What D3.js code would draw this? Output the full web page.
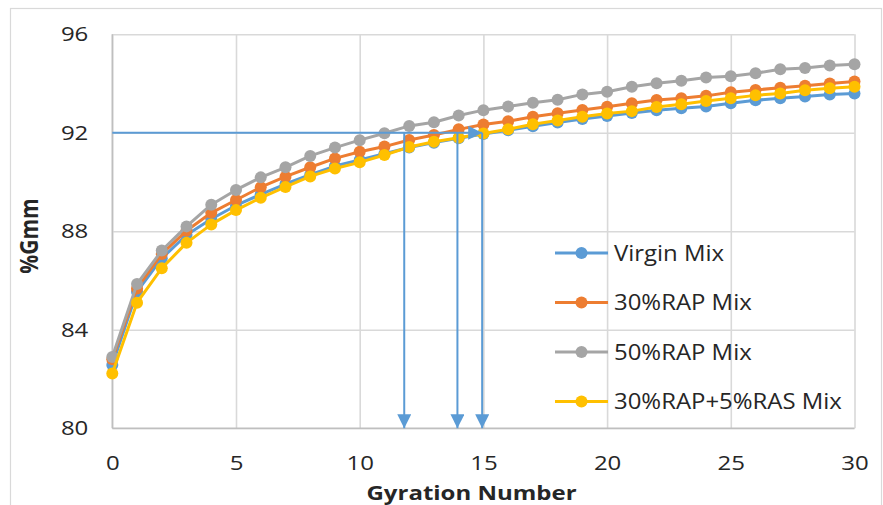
<!DOCTYPE html>
<html>
<head>
<meta charset="utf-8">
<script src="https://cdn.jsdelivr.net/npm/d3@7/dist/d3.min.js"></script>
<style>
  html, body { margin: 0; padding: 0; background: #fff; }
  svg { display: block; }
  text { font-family: "Open Sans", "Noto Sans", sans-serif; fill: #262626; }
</style>
</head>
<body>
<svg id="chart" width="883" height="505"></svg>
<script>
// ---- data ----
const gyrations = d3.range(0, 31);
const virginMix = [82.57, 85.55, 86.9, 87.85, 88.5, 89.05, 89.5, 89.92, 90.3, 90.65, 90.9, 91.15, 91.4, 91.6, 91.78, 91.95, 92.1, 92.27, 92.42, 92.56, 92.68, 92.8, 92.92, 93.0, 93.07, 93.2, 93.32, 93.4, 93.47, 93.56, 93.6];
const rap30Mix = [82.8, 85.68, 87.08, 88.02, 88.75, 89.27, 89.79, 90.22, 90.6, 90.96, 91.23, 91.44, 91.71, 91.91, 92.14, 92.34, 92.47, 92.65, 92.79, 92.93, 93.06, 93.2, 93.33, 93.4, 93.5, 93.65, 93.74, 93.83, 93.91, 94.0, 94.08];
const rap50Mix = [82.9, 85.86, 87.22, 88.2, 89.08, 89.68, 90.19, 90.6, 91.06, 91.4, 91.7, 91.98, 92.28, 92.43, 92.7, 92.92, 93.07, 93.22, 93.34, 93.56, 93.67, 93.87, 94.01, 94.11, 94.25, 94.3, 94.42, 94.58, 94.63, 94.73, 94.78];
const rap30ras5Mix = [82.23, 85.1, 86.5, 87.53, 88.28, 88.86, 89.36, 89.8, 90.23, 90.55, 90.8, 91.1, 91.42, 91.64, 91.8, 91.97, 92.14, 92.35, 92.5, 92.65, 92.78, 92.88, 93.05, 93.16, 93.29, 93.4, 93.52, 93.6, 93.73, 93.81, 93.87];
const seriesNames = ["Virgin Mix", "30%RAP Mix", "50%RAP Mix", "30%RAP+5%RAS Mix"];
const seriesColors = ["#5B9BD5", "#ED7D31", "#A5A5A5", "#FFC000"];
const xTicks = [0, 5, 10, 15, 20, 25, 30];
const yTicks = [80, 84, 88, 92, 96];
const targetGmm = 92;
const arrowGyrations = [11.8, 13.95, 14.95];
const xTitle = "Gyration Number";
const yTitle = "%Gmm";

// ---- layout ----
const svg = d3.select("#chart");
const SX = 1.2; // horizontal stretch of the original picture
const pL = 112.3, pR = 854.5, pT = 34.3, pB = 428.3;
const x = d3.scaleLinear().domain([0, 30]).range([pL, pR]);
const y = d3.scaleLinear().domain([80, 96]).range([pB, pT]);

// outer chart border
svg.append("rect").attr("x", 10.5).attr("y", 8.5).attr("width", 871).attr("height", 520)
  .attr("fill", "none").attr("stroke", "#D9D9D9").attr("stroke-width", 1.2);

// gridlines + tick labels
const gy = svg.append("g").attr("transform", `translate(${pL},0)`)
  .call(d3.axisLeft(y).tickValues(yTicks).tickSize(-(pR - pL)).tickPadding(20).tickFormat(d3.format("d")));
gy.select(".domain").remove();
gy.selectAll(".tick line").attr("stroke", "#D9D9D9").attr("stroke-width", 1.6);
gy.selectAll(".tick text").attr("font-size", 20).attr("fill", "#262626")
  .attr("font-family", "Open Sans").attr("transform", `scale(${SX},1)`);

const gx = svg.append("g").attr("transform", `translate(0,${pB})`)
  .call(d3.axisBottom(x).tickValues(xTicks).tickSize(-(pB - pT)).tickPadding(27.5).tickFormat(d3.format("d")));
gx.select(".domain").remove();
gx.selectAll(".tick line").attr("stroke", "#D9D9D9").attr("stroke-width", 1.6);
gx.selectAll(".tick text").attr("font-size", 20).attr("fill", "#262626")
  .attr("font-family", "Open Sans").attr("transform", `scale(${SX},1)`);

// axis lines
svg.append("line").attr("x1", pL).attr("x2", pL).attr("y1", pT).attr("y2", pB)
  .attr("stroke", "#BFBFBF").attr("stroke-width", 1.6);
svg.append("line").attr("x1", pL).attr("x2", pR).attr("y1", pB).attr("y2", pB)
  .attr("stroke", "#BFBFBF").attr("stroke-width", 1.6);

// series
const allSeries = [virginMix, rap30Mix, rap50Mix, rap30ras5Mix];
const line = d3.line().x((d, i) => x(gyrations[i])).y(d => y(d));
allSeries.forEach((vals, si) => {
  const g = svg.append("g");
  g.append("path").datum(vals).attr("d", line).attr("fill", "none")
    .attr("stroke", seriesColors[si]).attr("stroke-width", 3).attr("stroke-linejoin", "round");
  g.selectAll("circle").data(vals).join("circle")
    .attr("cx", (d, i) => x(gyrations[i])).attr("cy", d => y(d)).attr("r", 6)
    .attr("fill", seriesColors[si]);
});

// reference arrows
const refColor = "#5B9BD5";
const defs = svg.append("defs");
defs.append("marker").attr("id", "arrow").attr("viewBox", "0 0 10 10")
  .attr("refX", 10).attr("refY", 5).attr("markerWidth", 14).attr("markerHeight", 14)
  .attr("markerUnits", "userSpaceOnUse").attr("orient", "auto")
  .append("path").attr("d", "M0,0 L10,5 L0,10 Z").attr("fill", refColor);

const refG = svg.append("g");
refG.append("line").attr("x1", x(0)).attr("x2", x(d3.max(arrowGyrations)))
  .attr("y1", y(targetGmm)).attr("y2", y(targetGmm))
  .attr("stroke", refColor).attr("stroke-width", 2).attr("marker-end", "url(#arrow)");
refG.selectAll("line.down").data(arrowGyrations).join("line").attr("class", "down")
  .attr("x1", d => x(d)).attr("x2", d => x(d))
  .attr("y1", y(targetGmm)).attr("y2", y(80))
  .attr("stroke", refColor).attr("stroke-width", 2).attr("marker-end", "url(#arrow)");

// legend
const legX = 555, legY0 = 253, legDy = 49.5;
const leg = svg.append("g");
seriesNames.forEach((name, i) => {
  const yy = legY0 + i * legDy;
  leg.append("line").attr("x1", legX).attr("x2", legX + 53).attr("y1", yy).attr("y2", yy)
    .attr("stroke", seriesColors[i]).attr("stroke-width", 3);
  leg.append("circle").attr("cx", legX + 26.5).attr("cy", yy).attr("r", 6).attr("fill", seriesColors[i]);
  leg.append("text").attr("transform", `translate(${legX + 59},${yy}) scale(${SX * 0.95},1)`)
    .attr("dy", "0.36em").attr("font-size", 21).text(name);
});

// axis titles
svg.append("text").attr("transform", `translate(471.5,500) scale(${SX},1)`)
  .attr("text-anchor", "middle").attr("font-size", 20).attr("font-weight", "bold").text(xTitle);
svg.append("text").attr("transform", `translate(37.5,236) rotate(-90) scale(1,${SX})`)
  .attr("text-anchor", "middle").attr("font-size", 21).attr("font-weight", "bold").text(yTitle);
</script>
</body>
</html>
